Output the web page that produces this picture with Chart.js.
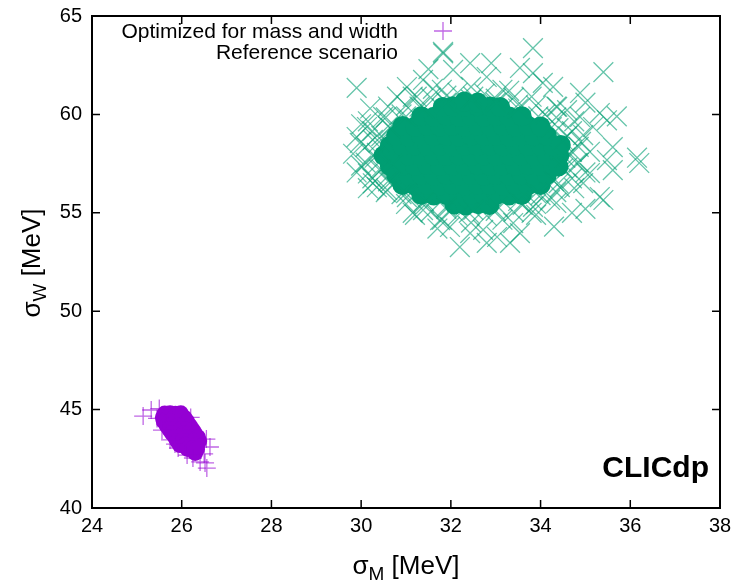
<!DOCTYPE html>
<html>
<head>
<meta charset="utf-8">
<script src="https://cdn.jsdelivr.net/npm/chart.js@4.4.1/dist/chart.umd.min.js"></script>
<style>
  html, body { margin: 0; padding: 0; background: #fff; }
  #wrap { width: 742px; height: 588px; }
</style>
</head>
<body>
<div id="wrap"><canvas id="chart"></canvas></div>
<script>
// axis ticks
const xTicks = [24, 26, 28, 30, 32, 34, 36, 38];
const yTicks = [40, 45, 50, 55, 60, 65];

const seriesNames = ['Optimized for mass and width', 'Reference scenario'];

// optimized scenario: dense centre and scattered outliers [sigmaM, sigmaW]
const optCore = [
  [25.62,44.80],[25.74,44.82],[25.86,44.79],[25.98,44.81],
  [25.58,44.60],[25.70,44.62],[25.82,44.58],[25.94,44.61],[26.06,44.59],
  [25.60,44.40],[25.72,44.41],[25.84,44.38],[25.96,44.42],[26.12,44.40],
  [25.66,44.20],[25.79,44.22],[25.92,44.18],[26.05,44.21],[26.18,44.19],
  [25.72,44.00],[25.85,44.02],[25.98,43.99],[26.11,44.01],[26.24,43.98],
  [25.78,43.80],[25.91,43.81],[26.04,43.79],[26.17,43.82],[26.29,43.80],
  [25.85,43.60],[25.98,43.62],[26.11,43.58],[26.24,43.61],[26.36,43.60],
  [25.90,43.40],[26.03,43.41],[26.16,43.39],[26.28,43.42],[26.39,43.40],
  [25.96,43.20],[26.09,43.21],[26.22,43.19],[26.35,43.22],
  [26.13,43.00],[26.24,43.02],[26.34,42.99],
  [26.30,42.80]
];
const optHalo = [
  [25.14,44.67],[25.32,44.98],[25.56,43.96],[25.74,43.46],[25.92,43.05],
  [26.12,42.69],[26.25,42.54],[26.41,42.34],[26.52,42.29],[26.56,42.03],
  [26.63,43.10],[25.45,44.55],[25.50,45.05],[25.65,44.30],[26.55,43.50],
  [26.50,42.75],[26.20,44.60],[25.85,43.25]
];

// reference scenario
const refCore = [
  [32.08,55.42],[32.33,55.37],[32.61,55.44],[32.86,55.40],
  [31.34,55.92],[31.62,55.88],[31.90,55.91],[32.18,55.87],[32.46,55.93],[32.74,55.89],[33.02,55.92],[33.30,55.88],[33.58,55.91],
  [30.92,56.41],[31.20,56.38],[31.48,56.42],[31.76,56.39],[32.04,56.41],[32.32,56.37],[32.60,56.42],[32.88,56.40],[33.16,56.38],[33.44,56.42],[33.72,56.39],[34.00,56.41],
  [30.78,56.93],[31.06,56.88],[31.34,56.91],[31.62,56.89],[31.90,56.92],[32.18,56.88],[32.46,56.91],[32.74,56.89],[33.02,56.92],[33.30,56.88],[33.58,56.91],[33.86,56.89],[34.14,56.92],
  [30.64,57.38],[30.92,57.41],[31.20,57.39],[31.48,57.42],[31.76,57.38],[32.04,57.41],[32.32,57.39],[32.60,57.42],[32.88,57.38],[33.16,57.41],[33.44,57.39],[33.72,57.42],[34.00,57.38],[34.28,57.41],
  [30.50,57.91],[30.78,57.88],[31.06,57.92],[31.34,57.89],[31.62,57.91],[31.90,57.88],[32.18,57.92],[32.46,57.89],[32.74,57.91],[33.02,57.88],[33.30,57.92],[33.58,57.89],[33.86,57.91],[34.14,57.88],[34.42,57.92],
  [30.64,58.41],[30.92,58.38],[31.20,58.42],[31.48,58.39],[31.76,58.41],[32.04,58.38],[32.32,58.42],[32.60,58.39],[32.88,58.41],[33.16,58.38],[33.44,58.42],[33.72,58.39],[34.00,58.41],[34.28,58.38],
  [30.78,58.91],[31.06,58.88],[31.34,58.92],[31.62,58.89],[31.90,58.91],[32.18,58.88],[32.46,58.92],[32.74,58.89],[33.02,58.91],[33.30,58.88],[33.58,58.92],[33.86,58.89],[34.14,58.91],
  [30.92,59.41],[31.20,59.38],[31.48,59.42],[31.76,59.39],[32.04,59.41],[32.32,59.38],[32.60,59.42],[32.88,59.39],[33.16,59.41],[33.44,59.38],[33.72,59.42],[34.00,59.39],
  [31.34,59.91],[31.62,59.88],[31.90,59.92],[32.18,59.89],[32.46,59.91],[32.74,59.88],[33.02,59.92],[33.30,59.89],[33.58,59.91],
  [31.82,60.38],[32.04,60.41],[32.32,60.39],[32.60,60.42],[32.88,60.40],[33.10,60.37],
  [32.30,60.65],[32.60,60.60],[34.45,58.45],[34.40,57.35]
];
const refHalo = [
  [29.82,58.00],[29.97,58.55],[29.90,61.35],[30.15,57.00],[30.35,56.30],[30.26,56.50],[30.26,58.70],
  [30.13,59.36],[30.49,59.87],[30.80,60.90],[31.02,61.39],[31.24,60.90],[31.38,61.75],[31.83,63.10],
  [32.05,62.26],[32.43,62.60],[32.80,61.90],[33.54,62.36],[33.83,62.10],[33.83,63.37],[34.05,61.60],
  [34.28,61.40],[34.88,61.09],[34.37,60.38],[34.59,60.22],[34.88,59.87],[35.32,60.07],[35.48,59.70],
  [35.17,59.36],[35.61,58.34],[35.40,62.15],[34.81,57.53],[35.48,57.68],[35.10,57.02],[35.61,57.17],
  [36.20,57.53],[36.15,57.80],[34.95,56.51],[34.43,56.31],[35.32,55.80],[35.40,55.65],[34.70,55.00],
  [34.21,55.65],[33.83,55.30],[33.39,54.48],[33.32,53.47],[33.54,53.97],[33.03,53.77],[32.80,53.47],
  [32.72,54.13],[32.43,53.97],[32.20,53.26],[31.98,54.28],[31.76,54.63],[31.38,55.14],[31.02,55.80],
  [30.58,56.16],
  [34.70,58.10],[34.40,59.30],[33.50,60.50],[32.50,60.90],[31.30,60.40],[30.60,59.40],[30.30,57.80],
  [30.60,56.60],[31.40,55.50],[32.40,55.00],[33.60,55.40],[34.40,56.50],[34.60,58.90],[34.10,60.00],
  [33.00,60.80],[31.90,60.95],[30.90,60.00],[30.45,58.90],[30.40,57.20],[30.90,55.95],[31.90,55.20],
  [33.00,55.10],[34.00,55.90],[34.60,57.30],[33.30,61.20],[31.60,61.30],[30.70,57.50],[34.90,58.60],
  [33.90,54.90],[31.20,54.90],[32.90,62.60],[31.50,62.30],[30.20,60.30],[35.00,60.60],[35.70,59.90],
  [35.00,55.20],[34.30,54.30],[31.70,54.20],[30.00,57.40],[30.00,59.50],
  [34.55,57.80],[34.50,58.70],[34.25,59.35],[33.95,59.90],[33.50,60.30],[33.00,60.60],[32.45,60.75],
  [31.90,60.60],[31.40,60.30],[31.00,59.90],[30.65,59.30],[30.40,58.60],[30.35,58.05],[30.45,57.20],
  [30.65,56.55],[31.00,56.00],[31.40,55.60],[31.90,55.30],[32.50,55.15],[33.05,55.30],[33.50,55.60],
  [33.90,56.00],[34.30,56.60],[34.50,57.25],
  [34.85,58.35],[34.70,59.15],[34.35,59.85],[33.90,60.45],[33.40,60.85],[32.75,61.05],[32.15,61.10],
  [31.55,60.85],[31.00,60.45],[30.55,59.85],[30.25,59.15],[30.10,58.35],[30.10,57.55],[30.25,56.75],
  [30.55,56.05],[31.00,55.45],[31.55,55.05],[32.15,54.85],[32.80,54.85],[33.40,55.05],[33.90,55.45],
  [34.35,56.05],[34.70,56.75],[34.85,57.55],
  [35.10,58.10],[34.95,58.95],[34.75,59.65],[34.35,60.40],[33.80,60.90],[33.15,61.25],[32.45,61.40],
  [31.80,61.25],[31.15,60.90],[30.60,60.40],[30.15,59.65],[29.90,58.85],[29.90,57.05],[30.15,56.25],
  [31.15,55.00],[31.80,54.65],[32.45,54.50],[33.15,54.65],[33.80,55.00],[34.35,55.50],[34.75,56.25],
  [35.00,57.05]
];

const purple = '#9400d3';
const purpleLight = 'rgba(148,0,211,0.6)';
const green = '#009e73';
const greenLight = 'rgba(0,158,115,0.6)';
const FONT = '"Liberation Sans", Arial, sans-serif';

function toPoints(list) {
  return list.map(p => ({ x: p[0], y: p[1] }));
}

function titleWithSub(ctx, sub, cx, base) {
  const big = '26px ' + FONT, small = '19px ' + FONT;
  ctx.font = big;
  const w1 = ctx.measureText('σ').width;
  const w3 = ctx.measureText(' [MeV]').width;
  ctx.font = small;
  const w2 = ctx.measureText(sub).width;
  let x0 = cx - (w1 + w2 + w3) / 2;
  ctx.textAlign = 'left';
  ctx.textBaseline = 'alphabetic';
  ctx.font = big;
  ctx.fillText('σ', x0, base);
  ctx.font = small;
  ctx.fillText(sub, x0 + w1, base + 6);
  ctx.font = big;
  ctx.fillText(' [MeV]', x0 + w1 + w2, base);
}

const frame = {
  id: 'frame',
  afterDraw(chart) {
    const { ctx, chartArea: a, scales: { x, y } } = chart;
    ctx.save();
    ctx.strokeStyle = '#000';
    ctx.lineWidth = 1.5;
    ctx.beginPath();
    xTicks.forEach(v => {
      const px = x.getPixelForValue(v);
      ctx.moveTo(px, a.bottom); ctx.lineTo(px, a.bottom - 8);
      ctx.moveTo(px, a.top); ctx.lineTo(px, a.top + 8);
    });
    yTicks.forEach(v => {
      const py = y.getPixelForValue(v);
      ctx.moveTo(a.left, py); ctx.lineTo(a.left + 8, py);
      ctx.moveTo(a.right, py); ctx.lineTo(a.right - 8, py);
    });
    ctx.stroke();
    ctx.lineWidth = 2;
    ctx.strokeRect(a.left, a.top, a.right - a.left, a.bottom - a.top);

    // key
    ctx.fillStyle = '#000';
    ctx.font = '21px ' + FONT;
    ctx.textAlign = 'right';
    ctx.textBaseline = 'alphabetic';
    ctx.fillText(seriesNames[0], 398, 38);
    ctx.fillText(seriesNames[1], 398, 59);
    ctx.lineWidth = 1.3;
    ctx.strokeStyle = purpleLight;
    ctx.beginPath();
    ctx.moveTo(434, 31); ctx.lineTo(452, 31);
    ctx.moveTo(443, 22); ctx.lineTo(443, 40);
    ctx.stroke();
    ctx.strokeStyle = greenLight;
    ctx.beginPath();
    ctx.moveTo(433, 42); ctx.lineTo(453, 62);
    ctx.moveTo(453, 42); ctx.lineTo(433, 62);
    ctx.stroke();

    // axis titles
    ctx.fillStyle = '#000';
    titleWithSub(ctx, 'M', 406, 574);
    ctx.translate(40, 263);
    ctx.rotate(-Math.PI / 2);
    titleWithSub(ctx, 'W', 0, 0);
    ctx.restore();

    ctx.save();
    ctx.fillStyle = '#000';
    ctx.font = 'bold 30px ' + FONT;
    ctx.textAlign = 'right';
    ctx.textBaseline = 'alphabetic';
    ctx.fillText('CLICdp', 709, 477);
    ctx.restore();
  }
};

new Chart(document.getElementById('chart'), {
  type: 'scatter',
  data: {
    datasets: [
      { label: seriesNames[0], data: toPoints(optHalo), pointStyle: 'cross', pointRadius: 9,
        borderColor: purpleLight, pointBorderWidth: 1.3, backgroundColor: purpleLight },
      { label: seriesNames[0], data: toPoints(optCore), pointStyle: 'circle', pointRadius: 8,
        borderColor: purple, pointBorderWidth: 0, backgroundColor: purple },
      { label: seriesNames[1], data: toPoints(refHalo), pointStyle: 'crossRot', pointRadius: 14,
        borderColor: greenLight, pointBorderWidth: 1.3, backgroundColor: greenLight },
      { label: seriesNames[1], data: toPoints(refCore), pointStyle: 'circle', pointRadius: 10,
        borderColor: green, pointBorderWidth: 0, backgroundColor: green }
    ]
  },
  options: {
    responsive: true,
    maintainAspectRatio: false,
    animation: false,
    layout: { padding: { left: 0, right: 22, top: 16, bottom: 0 } },
    plugins: { legend: { display: false }, tooltip: { enabled: false } },
    elements: { point: { hoverRadius: 0 } },
    scales: {
      x: {
        type: 'linear', min: 24, max: 38,
        grid: { display: false, drawTicks: false },
        border: { display: false },
        ticks: { color: '#000', font: { family: FONT, size: 20 }, padding: 6 },
        afterBuildTicks: s => { s.ticks = xTicks.map(v => ({ value: v })); },
        afterFit: s => { s.height = 80; s.paddingLeft = 0; s.paddingRight = 0; }
      },
      y: {
        type: 'linear', min: 40, max: 65,
        grid: { display: false, drawTicks: false },
        border: { display: false },
        ticks: { color: '#000', font: { family: FONT, size: 20 }, padding: 10 },
        afterBuildTicks: s => { s.ticks = yTicks.map(v => ({ value: v })); },
        afterFit: s => { s.width = 92; s.paddingTop = 0; s.paddingBottom = 0; }
      }
    }
  },
  plugins: [frame]
});
</script>
</body>
</html>
